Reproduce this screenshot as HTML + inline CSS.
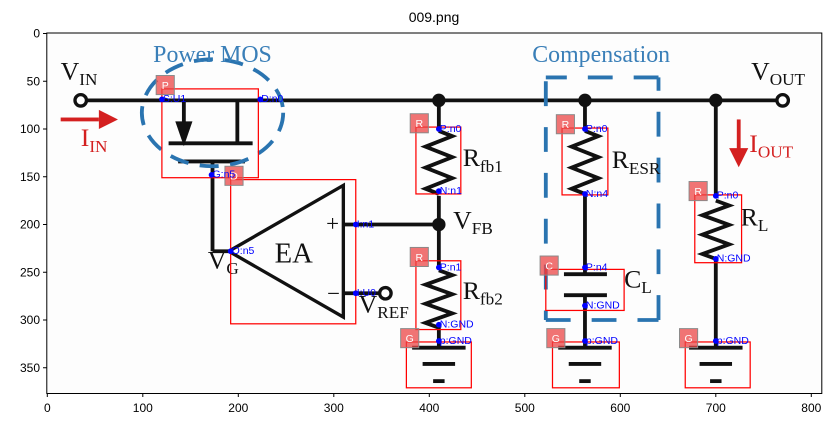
<!DOCTYPE html>
<html><head><meta charset="utf-8"><style>
body{margin:0;background:#fff;width:835px;height:427px;overflow:hidden}
svg{display:block}
text{font-family:"Liberation Sans","DejaVu Sans",sans-serif}
.ser{font-family:"Liberation Serif",serif}
</style></head><body>
<svg id="chart" width="835" height="427">
<text x="434" y="22" font-size="14" text-anchor="middle">009.png</text>
<g id="img" transform="translate(47.3,33.5) scale(0.955)">
<rect x="0" y="0" width="810" height="377" fill="#fdfdfd"/>
<g stroke="#111" stroke-width="4" fill="none">
<line x1="40" y1="70" x2="764" y2="70"/>
<line x1="143" y1="70" x2="143" y2="100"/>
<line x1="199" y1="70" x2="199" y2="115"/>
<line x1="127" y1="115" x2="215" y2="115"/>
<line x1="137" y1="134" x2="207" y2="134"/>
<line x1="173" y1="134" x2="173" y2="228"/>
<line x1="173" y1="228" x2="190" y2="228"/>
<polygon points="190,228 310,159 310,297" stroke-width="3.5"/>
<line x1="310" y1="200" x2="410" y2="200"/>
<line x1="310" y1="272" x2="348" y2="272"/>
<line x1="410" y1="70" x2="410" y2="100"/>
<line x1="410" y1="170" x2="410" y2="245"/>
<line x1="410" y1="305" x2="410" y2="328"/>
<line x1="563" y1="70" x2="563" y2="100"/>
<line x1="563" y1="170" x2="563" y2="252"/>
<line x1="541" y1="252" x2="586" y2="252"/>
<line x1="541" y1="274" x2="586" y2="274"/>
<line x1="563" y1="274" x2="563" y2="328"/>
<line x1="700" y1="70" x2="700" y2="172"/>
<line x1="700" y1="238" x2="700" y2="328"/>
</g>
<polygon points="143,118 134,92 152,92" fill="#111"/>
<g id="zig" stroke="#111" stroke-width="4" fill="none"></g>
<g id="gnds" stroke="#111" stroke-width="4"></g>
<g fill="#111">
<circle cx="410" cy="70" r="7"/><circle cx="563" cy="70" r="7"/><circle cx="700" cy="70" r="7"/><circle cx="410" cy="200" r="7"/>
</g>
<g fill="#fff" stroke="#111" stroke-width="3.5">
<circle cx="35" cy="70" r="6"/><circle cx="770" cy="70" r="6"/><circle cx="354" cy="272" r="6"/>
</g>
<ellipse cx="173" cy="83" rx="74" ry="56" fill="none" stroke="#2a74b0" stroke-width="4" stroke-dasharray="20,12"/>
<g stroke="#2a74b0" stroke-width="4" fill="none">
<path d="M522,50 V300 M522,300 H640 M640,300 V46 M640,46 H522" stroke-dasharray="26,22"/>
</g>
<text class="ser" x="173" y="30" font-size="25" fill="#3a7fb8" text-anchor="middle">Power MOS</text>
<text class="ser" x="580" y="30" font-size="25" fill="#3a7fb8" text-anchor="middle">Compensation</text>
<g class="ser" fill="#111" font-size="27">
<text class="ser" x="14" y="48">V<tspan font-size="18" dy="6">IN</tspan></text>
<text class="ser" x="737" y="48">V<tspan font-size="18" dy="6">OUT</tspan></text>
<text class="ser" x="238" y="240" font-size="30">EA</text>
<text class="ser" x="292" y="207" font-size="24">+</text>
<text class="ser" x="293" y="280" font-size="24">−</text>
<text class="ser" x="168" y="246">V<tspan font-size="18" dy="6">G</tspan></text>
<text class="ser" x="326" y="292">V<tspan font-size="18" dy="6">REF</tspan></text>
<text class="ser" x="425" y="204">V<tspan font-size="18" dy="6">FB</tspan></text>
<text class="ser" x="435" y="139">R<tspan font-size="18" dy="6">fb1</tspan></text>
<text class="ser" x="435" y="278">R<tspan font-size="18" dy="6">fb2</tspan></text>
<text class="ser" x="591" y="141">R<tspan font-size="18" dy="6">ESR</tspan></text>
<text class="ser" x="604" y="266">C<tspan font-size="18" dy="6">L</tspan></text>
<text class="ser" x="726" y="201">R<tspan font-size="18" dy="6">L</tspan></text>
</g>
<g fill="#d42020">
<rect x="14" y="88" width="40" height="4"/><polygon points="54,80 74,90 54,100"/>
<rect x="722" y="90" width="4" height="32"/><polygon points="714,120 724,140 734,120"/>
<text class="ser" x="35" y="118" font-size="27">I<tspan font-size="18" dy="6">IN</tspan></text>
<text class="ser" x="735" y="124" font-size="27">I<tspan font-size="18" dy="6">OUT</tspan></text>
</g>
<g id="ann"></g>
</g>
<g id="axes"></g>
</svg>
<script>
const compTypes=["P","D","R","R","G","R","C","G","R","G"];
const boxX0=[120,192,386,386,376,539,522,529,678,668];
const boxY0=[58,153,98,238,323,99,247,323,169,323];
const boxX1=[221,323,433,433,444,587,604,599,727,736];
const boxY1=[151,304,168,310,371,169,290,371,240,371];
const pinLabels=["S:U1","D:n0","G:n5","O:n5","I:n1","I:U0","P:n0","N:n1","P:n1","N:GND","p:GND","P:n0","N:n4","P:n4","N:GND","p:GND","P:n0","N:GND","p:GND"];
const pinX=[120,223,172,192,323,323,410,410,410,410,410,563,563,563,563,563,700,700,700];
const pinY=[69,69,148,228,200,272,100,165,245,305,322,100,168,245,285,322,170,236,322];
const resX=[410,410,563,700];
const resY0=[102,248,102,175];
const resY1=[168,308,168,236];
const gndX=[410,563,700];
const NS="http://www.w3.org/2000/svg";
function mk(t,a,p){const e=document.createElementNS(NS,t);for(const k in a)e.setAttribute(k,a[k]);p.appendChild(e);return e;}
const zig=document.getElementById('zig');
for(let i=0;i<resX.length;i++){
  const x=resX[i],y0=resY0[i],y1=resY1[i],n=6,h=(y1-y0)/n;let d=`M${x},${y0}`;
  for(let k=0;k<n;k++){d+=` L${x+(k%2?-14:14)},${y0+h*(k+0.5)}`;}
  d+=` L${x},${y1}`;
  const p=mk('path',{d:d},zig);
  
  
}
const gn=document.getElementById('gnds');
for(let i=0;i<gndX.length;i++){
  const x=gndX[i];
  const g=mk('g',{},gn);
  
  
  mk('line',{x1:x-28,y1:329,x2:x+28,y2:329},g);
  mk('line',{x1:x-17,y1:346,x2:x+17,y2:346},g);
  mk('line',{x1:x-6,y1:364,x2:x+6,y2:364},g);
}
const ann=document.getElementById('ann');
for(let i=0;i<compTypes.length;i++){
  const r=mk('rect',{x:boxX0[i],y:boxY0[i],width:boxX1[i]-boxX0[i],height:boxY1[i]-boxY0[i],fill:'none',stroke:'#f00','stroke-width':1.3},ann);
  
  
  const bx=boxX0[i]-6,by=boxY0[i]-14;
  const b=mk('rect',{x:bx,y:by,width:19,height:20,fill:'rgba(235,70,70,0.75)',stroke:'#888','stroke-width':1},ann);
  
  
  const t=mk('text',{x:bx+9.5,y:by+14,'font-size':11,fill:'#fff','text-anchor':'middle'},ann);
  t.textContent=compTypes[i];
  
  
}
for(let i=0;i<pinLabels.length;i++){
  const c=mk('circle',{cx:pinX[i],cy:pinY[i],r:3,fill:'#00f'},ann);
  
  
  const t=mk('text',{x:pinX[i]+1,y:pinY[i]+3,'font-size':11,fill:'#00f'},ann);
  t.textContent=pinLabels[i];
  
  
}
const xTicks=[0,100,200,300,400,500,600,700,800];
const yTicks=[0,50,100,150,200,250,300,350];
const ax=document.getElementById('axes');
const X=v=>47.3+v*0.955, Y=v=>33.5+v*0.955;
const fr=mk('rect',{x:46.8,y:33,width:775,height:360.5,fill:'none',stroke:'#000','stroke-width':1},ax);


xTicks.forEach(v=>{
  const l=mk('line',{x1:X(v),y1:393.5,x2:X(v),y2:397,stroke:'#000'},ax);
  
  
  const t=mk('text',{x:X(v),y:412,'font-size':12,'text-anchor':'middle'},ax);
  t.textContent=v;
  
  
});
yTicks.forEach(v=>{
  const l=mk('line',{x1:43,y1:Y(v),x2:46.8,y2:Y(v),stroke:'#000'},ax);
  
  
  const t=mk('text',{x:40,y:Y(v)+4,'font-size':12,'text-anchor':'end'},ax);
  t.textContent=v;
  
  
});
</script>
</body></html>
